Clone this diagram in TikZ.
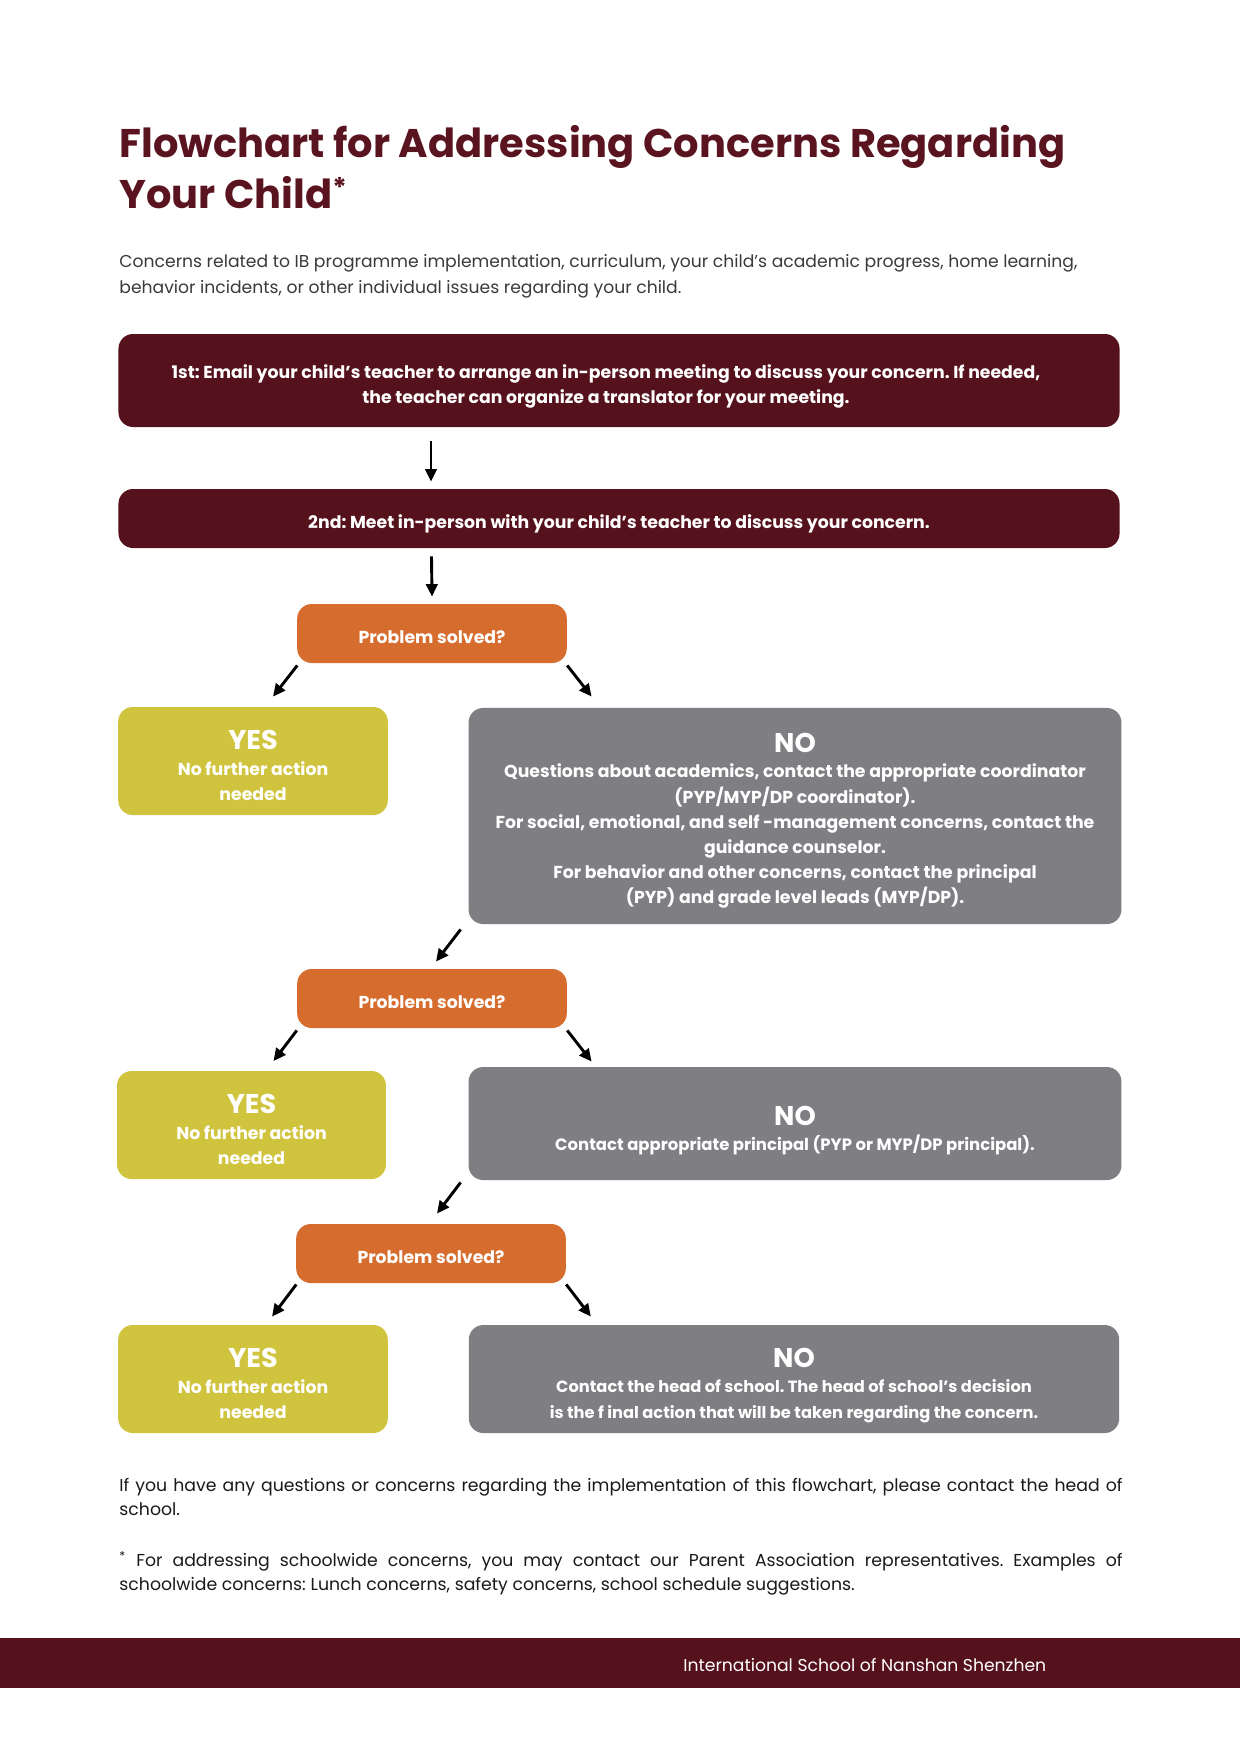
\documentclass[tikz,border=0pt]{standalone}
\usepackage{fontspec}
\setmainfont{Poppins}
\usetikzlibrary{arrows.meta,calc}
\definecolor{maroon}{HTML}{55111C}
\definecolor{titlered}{HTML}{5A1420}
\definecolor{orangebox}{HTML}{D66D2E}
\definecolor{yellowbox}{HTML}{D0C43F}
\definecolor{graybox}{HTML}{7F7E83}
\definecolor{bodytext}{HTML}{3A3A3A}
\frenchspacing
\newcommand\bigword[1]{{\fontsize{13}{16}\selectfont #1}}
\begin{document}
\begin{tikzpicture}[x=0.48pt,y=-0.48pt,
  box/.style={rounded corners=7pt, inner sep=0pt},
  boxtext/.style={inner sep=0pt, text=white, align=center,
    font=\bfseries\fontsize{8.3}{12.1}\selectfont},
  stepbox/.style={box, fill=maroon, minimum width=480.5pt},
  decision/.style={box, fill=orangebox, minimum width=129.4pt, minimum height=28.32pt},
  yesbox/.style={box, fill=yellowbox, minimum width=129.4pt, minimum height=51.84pt},
  nobox/.style={box, fill=graybox},
  plain/.style={inner sep=0pt, anchor=base west},
  arr/.style={line width=1.4pt, -{Triangle[length=6pt,width=5.5pt]}}
]
\useasboundingbox (0,0) rectangle (1240,1753);
\fill[white] (0,0) rectangle (1240,1753);

% title
\node[plain, text=titlered, font=\bfseries\fontsize{19.2}{24}\selectfont] (title1) at (119,157) {Flowchart for Addressing Concerns Regarding};
\node[plain, text=titlered, font=\bfseries\fontsize{19.2}{24}\selectfont] (title2) at (119,208) {Your Child{\fontsize{13}{13}\selectfont\raisebox{5pt}{*}}};

% intro
\node[plain, text=bodytext, font=\fontsize{8.25}{12}\selectfont] (intro1) at (119,267.5) {Concerns related to IB programme implementation, curriculum, your child’s academic progress, home learning,};
\node[plain, text=bodytext, font=\fontsize{8.25}{12}\selectfont] (intro2) at (119,293) {behavior incidents, or other individual issues regarding your child.};

% steps
\node[stepbox, minimum height=44.64pt] (b1) at (619,380.5) {};
\node[boxtext] (b1t) at ($(b1.center)+(-13,6)$) {1st: Email your child’s teacher to arrange an in-person meeting to discuss your concern. If needed,\\ the teacher can organize a translator for your meeting.};
\node[stepbox, minimum height=28.32pt] (b2) at (619,518.5) {};
\node[boxtext] (b2t) at ($(b2.center)+(0,5.5)$) {2nd: Meet in-person with your child’s teacher to discuss your concern.};

% level 1
\node[decision] (d1) at (432,633.5) {};
\node[boxtext] (d1t) at ($(d1.center)+(0,3.5)$) {Problem solved?};
\node[yesbox] (y1) at (253,761) {};
\node[boxtext] (y1t) at ($(y1.center)+(0,4.5)$) {\bigword{YES}\\ No further action\\ needed};
\node[nobox, minimum width=313.4pt, minimum height=103.7pt] (n1) at (795,816) {};
\node[boxtext] (n1t) at ($(n1.center)+(0,5)$) {\bigword{NO}\\
Questions about academics, contact the appropriate coordinator\\
(PYP/MYP/DP coordinator).\\
For social, emotional, and self -management concerns, contact the\\
guidance counselor.\\
For behavior and other concerns, contact the principal\\
(PYP) and grade level leads (MYP/DP).};

% level 2
\node[decision] (d2) at (432,998.5) {};
\node[boxtext] (d2t) at ($(d2.center)+(0,3.5)$) {Problem solved?};
\node[yesbox, minimum width=129.1pt] (y2) at (251.5,1125) {};
\node[boxtext] (y2t) at ($(y2.center)+(0,4.5)$) {\bigword{YES}\\ No further action\\ needed};
\node[nobox, minimum width=313.4pt, minimum height=54.24pt] (n2) at (795,1123.5) {};
\node[boxtext, font=\bfseries\fontsize{7.9}{12.1}\selectfont] (n2t) at ($(n2.center)+(0,7)$) {\bigword{NO}\\
Contact appropriate principal (PYP or MYP/DP principal).};

% level 3
\node[decision] (d3) at (431,1253.5) {};
\node[boxtext] (d3t) at ($(d3.center)+(0,3.5)$) {Problem solved?};
\node[yesbox] (y3) at (253,1379) {};
\node[boxtext] (y3t) at ($(y3.center)+(0,4.5)$) {\bigword{YES}\\ No further action\\ needed};
\node[nobox, minimum width=312.2pt, minimum height=51.84pt] (n3) at (794,1379) {};
\node[boxtext, font=\bfseries\fontsize{7.8}{12.1}\selectfont] (n3t) at ($(n3.center)+(0,6.5)$) {\bigword{NO}\\
Contact the head of school. The head of school’s decision\\
is the f inal action that will be taken regarding the concern.};

% arrows
\draw[arr] ($(b1.south)+(-188,14)$) -- ($(b2.north)+(-188,-7)$);
\draw[arr] ($(b2.south)+(-187.5,8)$) -- ($(d1.north)+(0,-7)$);
\draw[arr] ($(d1.south west)+(0.5,2)$) -- ($(y1.north)+(20,-10)$);
\draw[arr] ($(d1.south east)+(0,2)$) -- ($(n1.north west)+(123.5,-11)$);
\draw[arr] ($(n1.south west)+(-7.5,5)$) -- ($(d2.north)+(4,-7)$);
\draw[arr] ($(d2.south west)+(0,2)$) -- ($(y2.north)+(22,-9.5)$);
\draw[arr] ($(d2.south east)+(0,2)$) -- ($(n2.north west)+(123.5,-5)$);
\draw[arr] ($(n2.south west)+(-7.5,2)$) -- ($(d3.north)+(6,-10)$);
\draw[arr] ($(d3.south west)+(0.5,1)$) -- ($(y3.north)+(19,-8)$);
\draw[arr] ($(d3.south east)+(0,1)$) -- ($(n3.north west)+(122.5,-8)$);

% closing notes
\node[plain, text=black!90, font=\fontsize{8.3}{12}\selectfont] (note1) at (119,1491) {\hbox to 481.5pt{If you have any questions or concerns regarding the implementation of this flowchart, please contact the head of}};
\node[plain, text=black!90, font=\fontsize{8.3}{12}\selectfont] (note2) at (119,1515.5) {school.};
\node[plain, text=black!90, font=\fontsize{8.3}{12}\selectfont] (note3) at (119,1566) {\hbox to 481.5pt{\textsuperscript{*} For addressing schoolwide concerns, you may contact our Parent Association representatives. Examples of}};
\node[plain, text=black!90, font=\fontsize{8.3}{12}\selectfont] (note4) at (119,1590.5) {schoolwide concerns: Lunch concerns, safety concerns, school schedule suggestions.};

% footer band
\fill[maroon] (0,1638) rectangle (1240,1687.5);
\node[plain, text=white, font=\fontsize{8.25}{12}\selectfont] (footer) at (683,1671) {International School of Nanshan Shenzhen};
\end{tikzpicture}
\end{document}
